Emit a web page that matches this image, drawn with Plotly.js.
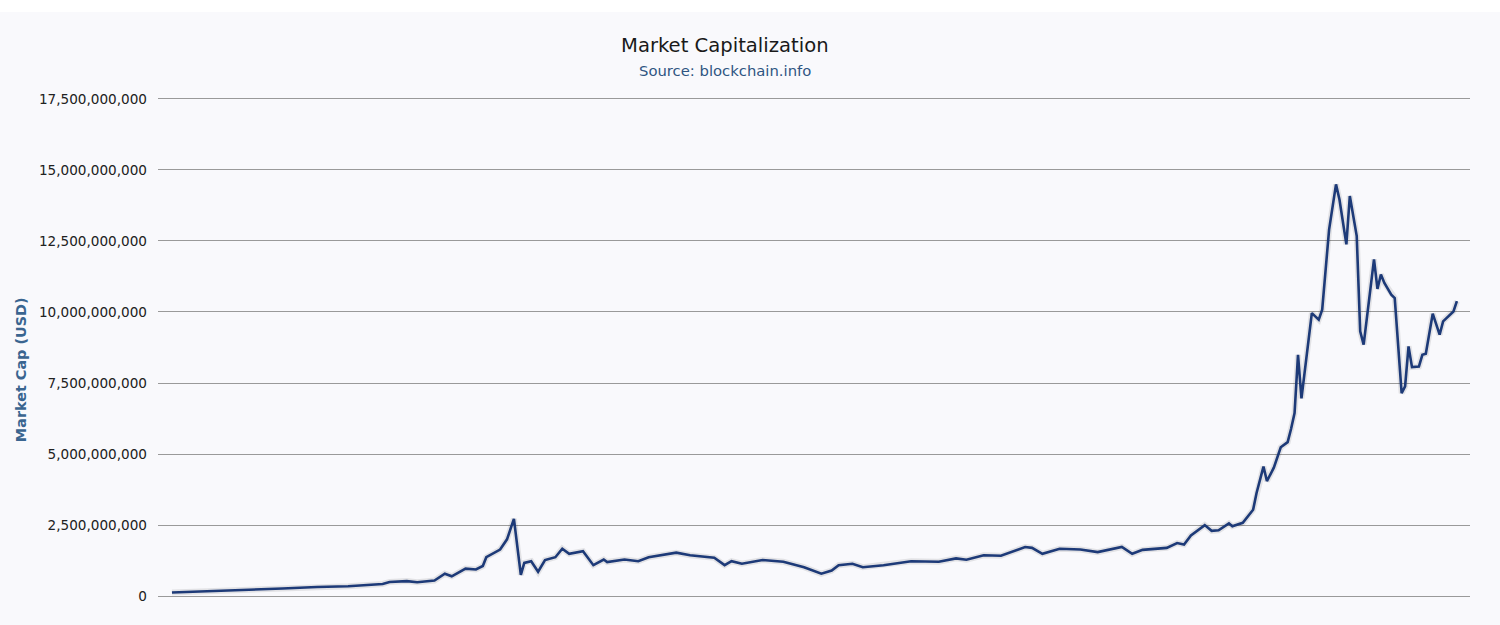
<!DOCTYPE html>
<html>
<head>
<meta charset="utf-8">
<script src="https://cdn.plot.ly/plotly-3.0.1.min.js"></script>
<style>
html,body{margin:0;padding:0;background:#ffffff;}
#chart{width:1500px;height:625px;}
</style>
</head>
<body>
<div id="chart"></div>
<script>
// Market capitalization (USD)
const dates = [
 '2013-01-01','2013-01-14','2013-01-24','2013-02-02','2013-02-12','2013-02-21','2013-03-03','2013-03-05',
 '2013-03-10','2013-03-13','2013-03-18','2013-03-21','2013-03-23','2013-03-27','2013-03-30','2013-04-01',
 '2013-04-02','2013-04-06','2013-04-08','2013-04-10','2013-04-12','2013-04-13','2013-04-15','2013-04-17',
 '2013-04-19','2013-04-22','2013-04-24','2013-04-26','2013-04-30','2013-05-03','2013-05-06','2013-05-07',
 '2013-05-12','2013-05-16','2013-05-19','2013-05-27','2013-05-31','2013-06-07','2013-06-10','2013-06-12',
 '2013-06-15','2013-06-21','2013-06-27','2013-07-03','2013-07-08','2013-07-11','2013-07-13','2013-07-17',
 '2013-07-20','2013-07-26','2013-08-03','2013-08-11','2013-08-16','2013-08-19','2013-08-24','2013-08-29',
 '2013-09-05','2013-09-07','2013-09-10','2013-09-15','2013-09-21','2013-09-26','2013-10-03','2013-10-06',
 '2013-10-09','2013-10-16','2013-10-19','2013-10-21','2013-10-23','2013-10-27','2013-10-29','2013-10-31',
 '2013-11-03','2013-11-04','2013-11-07','2013-11-10','2013-11-11','2013-11-13','2013-11-14','2013-11-16',
 '2013-11-18','2013-11-20','2013-11-21','2013-11-22','2013-11-23','2013-11-24','2013-11-27','2013-11-29',
 '2013-11-30','2013-12-02','2013-12-04','2013-12-05','2013-12-07','2013-12-08','2013-12-10','2013-12-11',
 '2013-12-12','2013-12-14','2013-12-15','2013-12-16','2013-12-17','2013-12-18','2013-12-20','2013-12-21',
 '2013-12-23','2013-12-24','2013-12-25','2013-12-26','2013-12-28','2013-12-29','2013-12-30','2014-01-01',
 '2014-01-03','2014-01-04','2014-01-06','2014-01-07','2014-01-08'
];
// values in billions of USD
const marketCapBillions = [
 0.13,0.18,0.23,0.27,0.32,0.35,0.43,0.50,
 0.53,0.49,0.55,0.79,0.70,0.97,0.94,1.06,
 1.37,1.64,2.00,2.72,0.75,1.17,1.23,0.86,
 1.27,1.37,1.67,1.49,1.58,1.09,1.29,1.20,
 1.29,1.23,1.37,1.53,1.44,1.35,1.09,1.23,
 1.14,1.27,1.21,1.02,0.79,0.90,1.09,1.14,
 1.02,1.09,1.23,1.21,1.33,1.28,1.44,1.42,
 1.73,1.70,1.49,1.67,1.64,1.55,1.73,1.49,
 1.63,1.70,1.87,1.82,2.14,2.50,2.30,2.32,
 2.56,2.46,2.58,3.04,3.63,4.56,4.05,4.52,
 5.24,5.42,5.89,6.44,8.49,6.96,9.96,9.73,
 10.08,12.90,14.49,13.96,12.38,14.08,12.67,9.32,
 8.85,10.79,11.85,10.81,11.32,11.02,10.61,10.49,
 7.14,7.38,8.79,8.06,8.08,8.49,8.53,9.94,
 9.20,9.67,9.91,10.02,10.38
];
const marketCap = marketCapBillions.map(v => v * 1e9);
const yTicks = [0, 2.5e9, 5e9, 7.5e9, 10e9, 12.5e9, 15e9, 17.5e9];
const yTickLabels = ['0','2,500,000,000','5,000,000,000','7,500,000,000','10,000,000,000','12,500,000,000','15,000,000,000','17,500,000,000'];

const FONT = 'DejaVu Sans, Verdana, sans-serif';

const traces = [
  { // soft shadow under the line
    x: dates, y: marketCap, type: 'scatter', mode: 'lines',
    line: {color: 'rgba(0,0,0,0.09)', width: 6}, hoverinfo: 'skip', showlegend: false
  },
  {
    x: dates, y: marketCap, type: 'scatter', mode: 'lines', name: 'Market Cap',
    line: {color: '#1d3a78', width: 2.6}, showlegend: false
  }
];

const layout = {
  width: 1500, height: 625,
  paper_bgcolor: '#f9f9fc', plot_bgcolor: '#f9f9fc',
  margin: {l: 158, r: 30, t: 96, b: 26},
  showlegend: false,
  xaxis: {
    type: 'date',
    range: ['2012-12-27 23:00', '2014-01-11 19:00'],
    showticklabels: false, showgrid: false, zeroline: false, showline: false, ticks: ''
  },
  yaxis: {
    range: [-0.1e9, 17.6e9],
    tickvals: yTicks, ticktext: yTickLabels,
    tickfont: {family: FONT, size: 13.6, color: '#222222'},
    showgrid: true, gridcolor: '#9a9a9a', gridwidth: 1,
    zeroline: false, showline: false, ticks: '', ticklabelstandoff: 10
  },
  shapes: [
    {type: 'rect', xref: 'paper', yref: 'paper', x0: -0.2, x1: 1.1, y0: 1 + (96 - 12) / 503, y1: 1 + 96 / 503,
     fillcolor: '#ffffff', line: {width: 0}, layer: 'below'}
  ],
  annotations: [
    {text: 'Market Capitalization', xref: 'paper', yref: 'paper', x: 0.432, y: 1, yshift: 51,
     showarrow: false, font: {family: FONT, size: 19.6, color: '#1a1a1a'}, xanchor: 'center', yanchor: 'middle'},
    {text: 'Source: blockchain.info', xref: 'paper', yref: 'paper', x: 0.432, y: 1, yshift: 26,
     showarrow: false, font: {family: FONT, size: 14.8, color: '#2f5582'}, xanchor: 'center', yanchor: 'middle'},
    {text: '<b>Market Cap (USD)</b>', xref: 'paper', yref: 'paper', x: 0, xshift: -137, y: 0.455,
     showarrow: false, textangle: -90, font: {family: FONT, size: 14.4, color: '#3a6590'}, xanchor: 'center', yanchor: 'middle'}
  ]
};

Plotly.newPlot('chart', traces, layout, {displayModeBar: false, staticPlot: true});
</script>
</body>
</html>
